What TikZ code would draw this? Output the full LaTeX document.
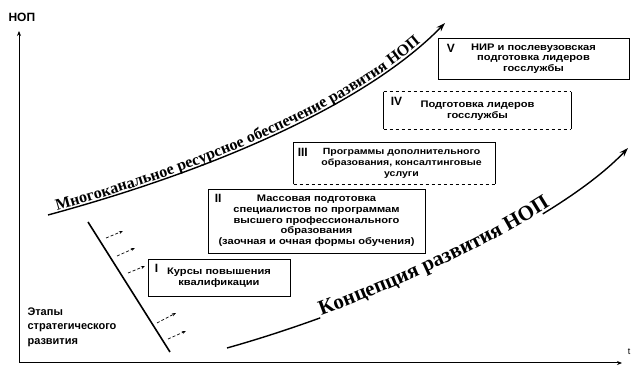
\documentclass[tikz,border=0pt]{standalone}
\usepackage{fontspec}
\setmainfont{Liberation Serif}
\setsansfont{Liberation Sans}
\newfontfamily\boxfont[FakeStretch=1.17]{Liberation Sans}
\usetikzlibrary{arrows.meta,positioning,decorations.text}

\tikzset{
  stagebox/.style={draw, line width=0.9pt, align=center, inner sep=2pt,
    font=\boxfont\bfseries\fontsize{9.5}{10.7}\selectfont},
  numeral/.style={inner sep=0pt, font=\sffamily\bfseries\fontsize{12}{12}\selectfont},
  axis/.style={line width=1pt, -{Stealth[length=5pt,width=4pt]}},
  trend/.style={line width=1.4pt, -{Stealth[length=9pt,width=6pt]}},
  hint/.style={densely dashed, line width=0.7pt, -{Stealth[length=4pt,width=3pt]}},
  edge/.style={line width=0.9pt},
}

\begin{document}
\begin{tikzpicture}[x=1pt,y=-1pt]
    \useasboundingbox (0,0) rectangle (633,366);
    % axes
    \coordinate (origin) at (19,363);
    \coordinate (yEnd) at (19,31);
    \coordinate (xEnd) at (622,363);
    \draw[axis] (origin) -- (yEnd);
    \draw[axis] (origin) -- (xEnd);
    \node [font=\sffamily\bfseries\fontsize{12}{12}\selectfont, anchor=west] (yLabel) at (5,17) {НОП};
    \node [font=\sffamily\fontsize{9}{9}\selectfont] (xLabel) at (629,352) {t};

    % stages
    \node [stagebox, minimum width=142pt, minimum height=37pt] (stageI) at (219,277.5)
        {Курсы повышения\\квалификации};
    \node [stagebox, minimum width=217pt, minimum height=64pt] (stageII) at (316.5,221)
        {Массовая подготовка\\специалистов по программам\\высшего профессионального\\образования\\(заочная и очная формы обучения)};
    \node [stagebox, draw=none, minimum width=201pt, minimum height=41pt] (stageIII) at (394.5,163.5) {};
    \node [stagebox, draw=none, font=\boxfont\bfseries\fontsize{9}{10.7}\selectfont] (stageIIItext) at ([xshift=7pt]stageIII.center)
        {Программы дополнительного\\образования, консалтинговые\\услуги};
    \node [stagebox, draw=none, minimum width=187pt, minimum height=37pt] (stageIV) at (477.5,110.5)
        {Подготовка лидеров\\госслужбы};
    \node [stagebox, minimum width=191pt, minimum height=41pt] (stageV) at (533.5,58.5)
        {НИР и послевузовская\\подготовка лидеров\\госслужбы};
    \draw[edge] (stageIII.south west) -- (stageIII.north west) -- (stageIII.north east) -- (stageIII.south east);
    \draw[edge, dashed] (stageIII.south west) -- (stageIII.south east);
    \draw[edge] (stageIV.north west) -- (stageIV.south west);
    \draw[edge] (stageIV.north east) -- (stageIV.south east);
    \draw[edge, dashed] (stageIV.north west) -- (stageIV.north east);
    \draw[edge, dashed] (stageIV.south west) -- (stageIV.south east);

    \node [numeral, below right=5pt and 7pt of stageI.north west] (numI) {I};
    \node [numeral, below right=5pt and 7pt of stageII.north west] (numII) {II};
    \node [numeral, below right=5pt and 4pt of stageIII.north west] (numIII) {III};
    \node [numeral, below right=5pt and 7pt of stageIV.north west] (numIV) {IV};
    \node [numeral, below right=6pt and 9pt of stageV.north west] (numV) {V};

    % steps of strategic development
    \node [font=\sffamily\bfseries\fontsize{11}{14.5}\selectfont, align=left, anchor=north west] (stagesLabel) at (24,304)
        {Этапы\\стратегического\\развития};
    \coordinate (stageTop) at (88,222);
    \coordinate (stageBot) at (170,352);
    \draw[line width=1.6pt] (stageTop) -- (stageBot);
    \foreach \sx/\sy/\ex/\ey in {106/238/123/231, 117/256/135/248, 128/273/145/266, 157/323/176/313, 168/339/186/331}
        \draw[hint] (\sx,\sy) -- (\ex,\ey);

    % curves
    \coordinate (resStart) at (48,215);
    \coordinate (resEnd) at (445,23);
    \draw[trend] (resStart) .. controls (250,160) and (380,90) .. (resEnd);
    \path[decorate, decoration={text along path, raise=2pt, text align={left, left indent=10pt},
        text={|\bfseries\fontsize{16}{16}\selectfont|Многоканальное ресурсное обеспечение развития НОП}}]
        (resStart) .. controls (250,160) and (380,90) .. (resEnd);
    \coordinate (conStart) at (227,348);
    \coordinate (conEnd) at (628,148);
    \draw[trend, dash pattern=on 98pt off 246pt on 140pt] (conStart) .. controls (380,305) and (560,220) .. (conEnd);
    \path[decorate, decoration={text along path, raise=2pt, text align={left, left indent=100pt},
        text={|\bfseries\fontsize{21}{21}\selectfont|Концепция развития НОП}}]
        (conStart) .. controls (380,305) and (560,220) .. (conEnd);
\end{tikzpicture}
\end{document}
